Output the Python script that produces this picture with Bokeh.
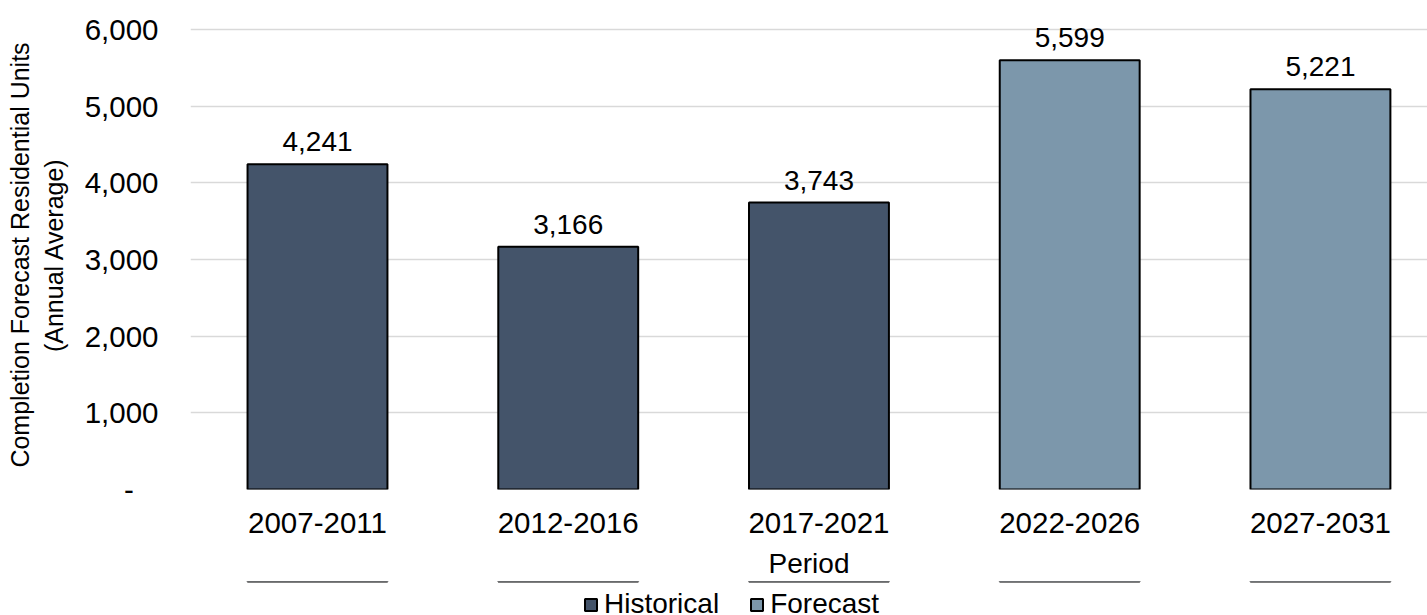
from bokeh.plotting import figure
from bokeh.layouts import column
from bokeh.models import (ColumnDataSource, Range1d, FixedTicker, NumeralTickFormatter,
                          Legend, LegendItem)
from bokeh.embed import file_html
from bokeh.resources import INLINE
from bokeh.core.properties import value

# ---- data ----
periods = ["2007-2011", "2012-2016", "2017-2021", "2022-2026", "2027-2031"]
units = [4241, 3166, 3743, 5599, 5221]
series = ["Historical", "Historical", "Historical", "Forecast", "Forecast"]
series_names = ["Historical", "Forecast"]
series_colors = {"Historical": "#44546A", "Forecast": "#7C97AB"}
y_ticks = [0, 1000, 2000, 3000, 4000, 5000, 6000]

FONT = "Liberation Sans"
FS = "28px"
TICK_FS = "29.5px"

xs = list(range(len(periods)))
src = ColumnDataSource(dict(
    x=xs,
    top=units,
    series=series,
    color=[series_colors[s] for s in series],
    label=[f"{v:,}" for v in units],
))

p = figure(width=1427, height=581, output_backend="svg", toolbar_location=None,
           x_range=Range1d(-0.5065, 4.427), y_range=Range1d(0, 6117.6),
           min_border_left=190, min_border_right=0, min_border_top=20,
           min_border_bottom=10)
p.outline_line_color = None
p.background_fill_color = "white"

bars = p.vbar(x="x", top="top", bottom=0, width=0.558, source=src,
              fill_color="color", line_color="black", line_width=2)

p.text(x="x", y="top", text="label", source=src, text_align="center",
       text_baseline="bottom", y_offset=-13, text_font=value(FONT),
       text_font_size=FS, text_color="black")

# axes
p.xaxis.ticker = FixedTicker(ticks=xs)
p.xaxis.major_label_overrides = {i: lab for i, lab in zip(xs, periods)}
p.xaxis.axis_label = "Period"
p.yaxis.ticker = FixedTicker(ticks=y_ticks)
p.yaxis.formatter = NumeralTickFormatter(format="0,0")
p.yaxis.major_label_overrides = {0: "-\u00a0\u00a0\u00a0"}
p.yaxis.axis_label = "Completion Forecast Residential Units\n(Annual Average)"

for ax in (p.xaxis[0], p.yaxis[0]):
    ax.axis_line_color = None
    ax.major_tick_line_color = None
    ax.minor_tick_line_color = None
    ax.major_tick_in = 0
    ax.major_tick_out = 0
    ax.minor_tick_out = 0
    ax.major_label_text_font = FONT
    ax.major_label_text_font_size = TICK_FS
    ax.major_label_text_color = "black"
    ax.axis_label_text_font = FONT
    ax.axis_label_text_font_size = FS
    ax.axis_label_text_font_style = "normal"
    ax.axis_label_text_color = "black"

p.yaxis.axis_label_text_font_size = "25px"
p.xaxis.major_label_standoff = 23
p.xaxis.axis_label_standoff = 12
p.yaxis.major_label_standoff = 32
p.yaxis.axis_label_standoff = 14

p.xgrid.visible = False
p.ygrid.ticker = FixedTicker(ticks=y_ticks)
p.ygrid.grid_line_color = "#d9d9d9"
p.ygrid.grid_line_width = 1.5

# ---- legend strip (separate figure so it can sit below the axis title) ----
# the swatch renderer reuses the bar data; its y range keeps every bar out of view
lg = figure(width=1427, height=34, output_backend="svg", toolbar_location=None,
            x_axis_type=None, y_axis_type=None, min_border=0,
            x_range=Range1d(-0.5065, 4.427), y_range=Range1d(-3, -2))
lg.outline_line_color = None
lg.grid.visible = False
swatch = lg.vbar(x="x", top="top", bottom=0, width=0.558, source=src,
                 fill_color="color", line_color="black", line_width=2)
items = [LegendItem(label=name, renderers=[swatch], index=series.index(name))
         for name in series_names]
legend = Legend(items=items, location=(393, -5), orientation="horizontal",
                border_line_color=None, background_fill_alpha=0,
                border_line_alpha=0, padding=0,
                margin=0, spacing=30, glyph_width=15, glyph_height=15,
                label_standoff=6, label_text_font=FONT, label_text_font_size=FS,
                label_text_color="black")
lg.add_layout(legend)

layout = column(p, lg, spacing=0)
open("out.html", "w").write(file_html(layout, INLINE))
